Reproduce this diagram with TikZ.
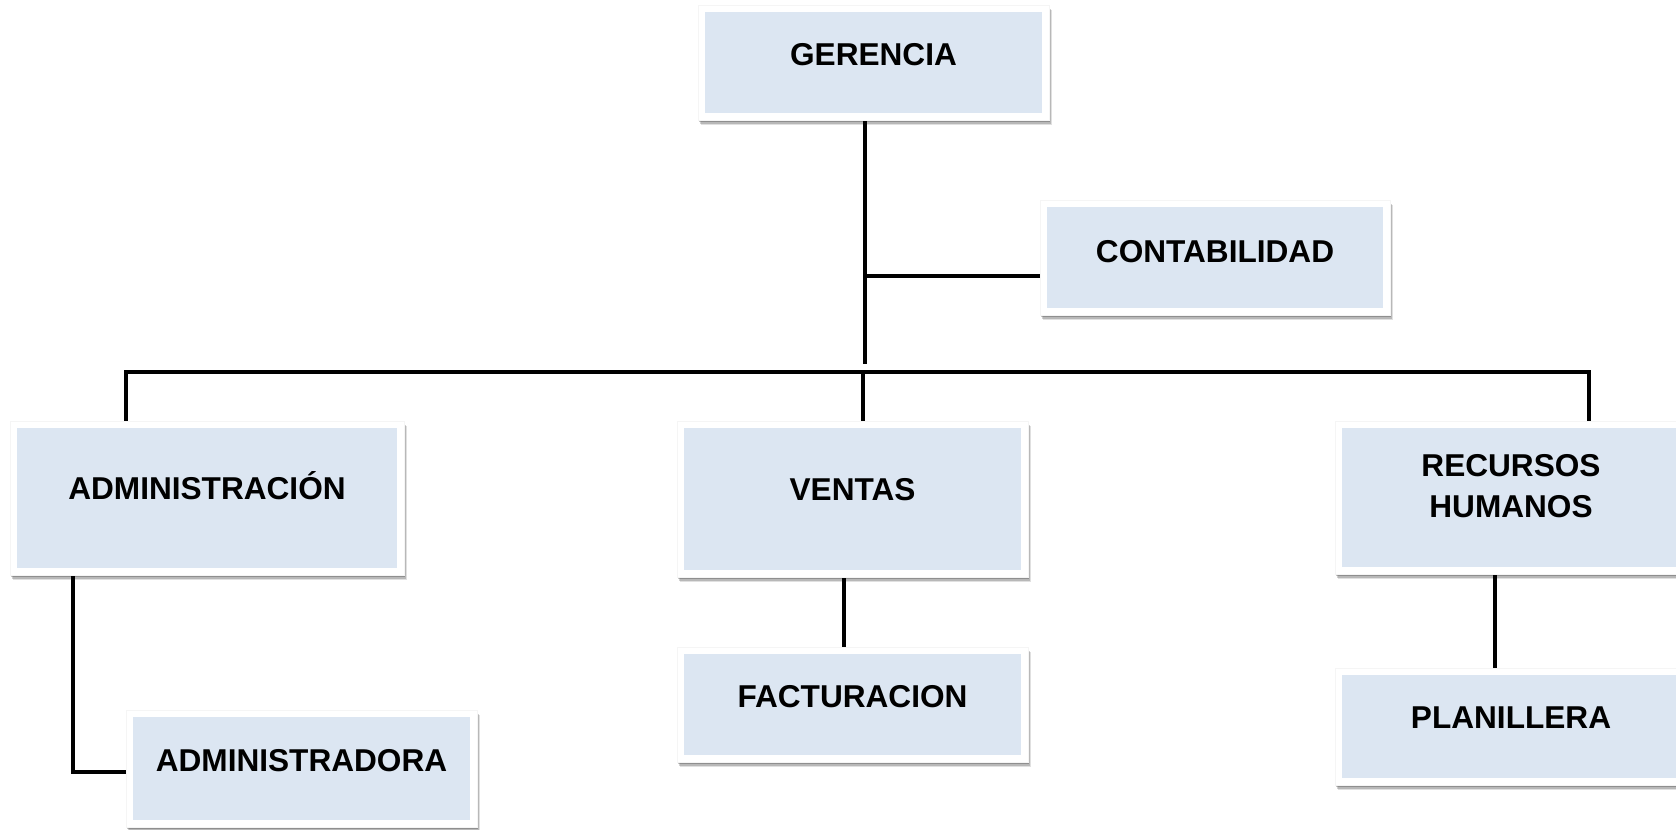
\documentclass[tikz,border=0pt]{standalone}
\usepackage{fontspec}
\setmainfont{Liberation Sans}
\usetikzlibrary{shadows,backgrounds}
\definecolor{boxblue}{RGB}{220,230,242}
\tikzset{
  orgbox/.style 2 args={rectangle, fill=white, draw=black!4, line width=0.4pt, inner sep=0pt,
    minimum width={#1*0.75pt}, minimum height={#2*0.75pt},
    drop shadow={shadow xshift=0.8pt, shadow yshift=-1.6pt, opacity=0.22, fill=black},
    drop shadow={shadow xshift=1.4pt, shadow yshift=-2.8pt, opacity=0.18, fill=black},
    drop shadow={shadow xshift=2pt, shadow yshift=-4pt, opacity=0.12, fill=black},
    path picture={\fill[boxblue] ([shift={(5.25pt,5.25pt)}]path picture bounding box.south west)
      rectangle ([shift={(-5.25pt,-5.25pt)}]path picture bounding box.north east);},
    font=\fontsize{23.7pt}{31pt}\selectfont\bfseries, text=black, text height=17pt, align=center},
  link/.style={draw=black, line width=3pt}
}
\begin{document}
\begin{tikzpicture}[x=0.75pt,y=-0.75pt]
\useasboundingbox (0,0) rectangle (1676,829);
\node[orgbox={351}{115}, text depth=12.75pt] (g) at (873.5,62.5) {GERENCIA};
\node[orgbox={350}{115}, text depth=9pt] (c) at (1215,257.5) {CONTABILIDAD};
\node[orgbox={394}{154}, text depth=15pt] (a) at (207,498) {ADMINISTRACIÓN};
\node[orgbox={351}{156}, text depth=15pt] (v) at (852.5,499) {VENTAS};
\node[orgbox={352}{153}, text height=48pt, text depth=18pt] (r) at (1511,497.5) {RECURSOS\\HUMANOS};
\node[orgbox={351}{115}, text depth=12.75pt] (f) at (852.5,704.5) {FACTURACION};
\node[orgbox={351}{117}, text depth=12.75pt] (ad) at (301.5,768.5) {ADMINISTRADORA};
\node[orgbox={352}{117}, text depth=14.25pt] (p) at (1511,726.5) {PLANILLERA};
\coordinate (trunk) at (865,364);
\coordinate (cj) at (865,276);
\coordinate (barL) at (126,372);
\coordinate (barR) at (1589,372);
\coordinate (barV) at (863,372);
\coordinate (al) at (73,772);
\coordinate (vx) at (844,600);
\coordinate (rx) at (1495,600);
\begin{scope}[on background layer]
\draw[link] (g.south -| trunk) -- (trunk);
\draw[link] (cj) -- (cj -| c.west);
\draw[link, line join=miter] (barL |- a.north) -- (barL) -- (barR) -- (barR |- r.north);
\draw[link] (barV) -- (barV |- v.north);
\draw[link] (a.south -| al) -- (al) -- (al -| ad.west);
\draw[link] (v.south -| vx) -- (f.north -| vx);
\draw[link] (r.south -| rx) -- (p.north -| rx);
\end{scope}
\end{tikzpicture}
\end{document}
